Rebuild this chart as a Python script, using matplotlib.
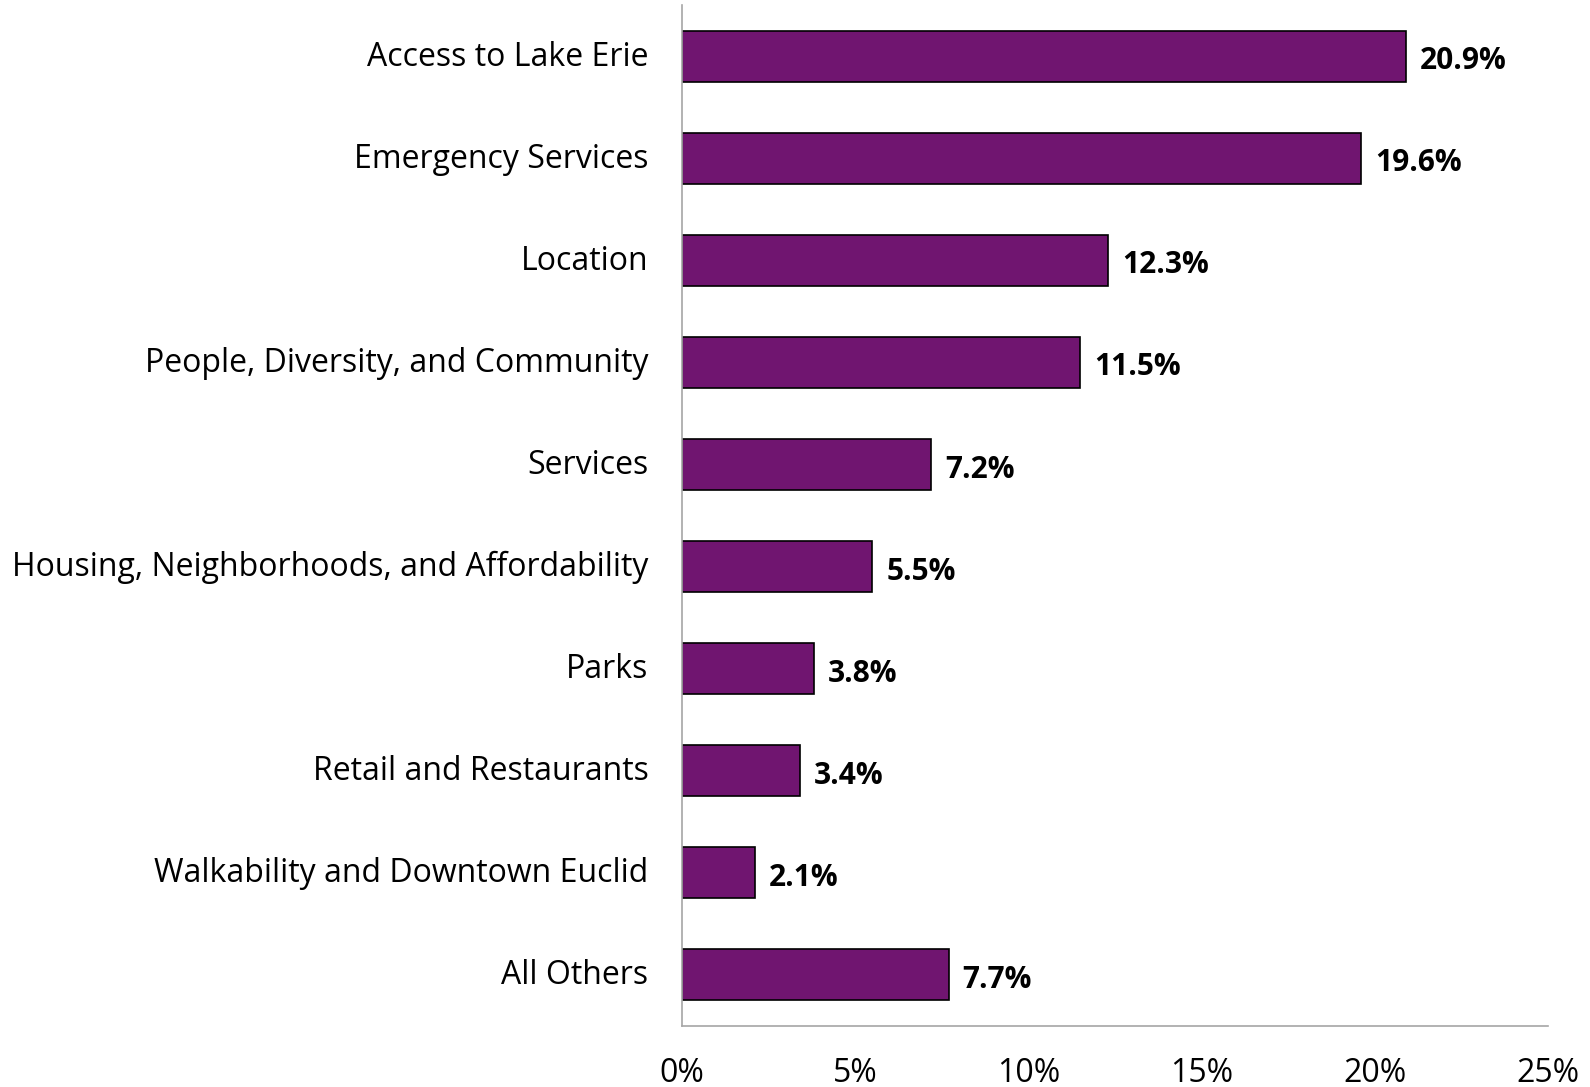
import matplotlib
matplotlib.use("Agg")
import matplotlib.pyplot as plt
import matplotlib.transforms as mtransforms
from matplotlib.ticker import FuncFormatter

categories = ["Access to Lake Erie", "Emergency Services", "Location",
              "People, Diversity, and Community", "Services",
              "Housing, Neighborhoods, and Affordability", "Parks",
              "Retail and Restaurants", "Walkability and Downtown Euclid",
              "All Others"]
values = [20.9, 19.6, 12.3, 11.5, 7.2, 5.5, 3.8, 3.4, 2.1, 7.7]

plt.rcParams['font.family'] = ['Open Sans', 'DejaVu Sans']

fig = plt.figure(figsize=(15.9, 10.87), dpi=100)
ax = fig.add_axes([0.4289, 0.0561, 0.9736 - 0.4289, 0.9954 - 0.0561])

y = list(range(len(categories)))
ax.barh(y, values, height=0.5, color='#701570', edgecolor='black', linewidth=1.2)
for yi, v in zip(y, values):
    ax.text(v + 0.4, yi + 0.05, f"{v:.1f}%", va='center', ha='left',
            fontsize=21.5, fontweight='bold')

ax.set_ylim(len(categories) - 0.5, -0.5)
ax.set_xlim(0, 25)
ax.set_yticks(y)
ax.set_yticklabels(categories)
ax.set_xticks([0, 5, 10, 15, 20, 25])
ax.xaxis.set_major_formatter(FuncFormatter(lambda x, p: f"{x:.0f}%"))
ax.tick_params(axis='x', length=0, pad=22, labelsize=23)
ax.tick_params(axis='y', length=0, pad=24, labelsize=23)

# nudge category labels up a little
shift = mtransforms.ScaledTranslation(0, 3 / 100, fig.dpi_scale_trans)
for lbl in ax.get_yticklabels():
    lbl.set_transform(lbl.get_transform() + shift)

for s in ['top', 'right']:
    ax.spines[s].set_visible(False)
for s in ['left', 'bottom']:
    ax.spines[s].set_color('#a6a6a6')
    ax.spines[s].set_linewidth(1.2)

fig.savefig("out.png", dpi=100)
